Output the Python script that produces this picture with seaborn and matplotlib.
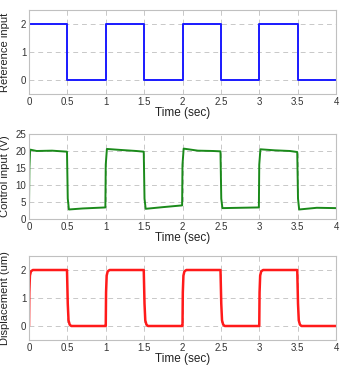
import numpy as np
import pandas as pd
import matplotlib
matplotlib.use("Agg")
import matplotlib.pyplot as plt
import seaborn as sns

# Reference input (square wave breakpoints)
ref_t = [0, 0.5, 0.5, 1.0, 1.0, 1.5, 1.5, 2.0, 2.0, 2.5, 2.5, 3.0, 3.0, 3.5, 3.5, 4.0]
ref_v = [2, 2, 0, 0, 2, 2, 0, 0, 2, 2, 0, 0, 2, 2, 0, 0]

# Control input (V)
ctl_t = [0, 0.005, 0.015, 0.1, 0.3, 0.495, 0.505, 0.52, 0.7, 0.995,
         1.0, 1.015, 1.2, 1.4, 1.495, 1.505, 1.52, 1.75, 1.995,
         2.0, 2.015, 2.2, 2.4, 2.495, 2.505, 2.52, 2.75, 2.995,
         3.0, 3.015, 3.2, 3.4, 3.495, 3.505, 3.52, 3.75, 4.0]
ctl_v = [3.5, 15.0, 20.4, 20.0, 20.1, 19.8, 6.0, 2.8, 3.1, 3.4,
         16.0, 20.6, 20.3, 20.0, 19.8, 6.0, 3.0, 3.5, 4.0,
         16.0, 20.7, 20.1, 20.0, 19.9, 6.0, 3.2, 3.3, 3.4,
         16.0, 20.5, 20.2, 20.0, 19.7, 6.0, 2.8, 3.3, 3.2]

# Displacement (um)
dsp_t = [0, 0.004, 0.012, 0.025, 0.05, 0.495, 0.505, 0.515, 0.53, 0.55, 0.995,
         1.0, 1.004, 1.012, 1.025, 1.05, 1.495, 1.505, 1.515, 1.53, 1.55, 1.995,
         2.0, 2.004, 2.012, 2.025, 2.05, 2.495, 2.505, 2.515, 2.53, 2.55, 2.995,
         3.0, 3.004, 3.012, 3.025, 3.05, 3.495, 3.505, 3.515, 3.53, 3.55, 4.0]
dsp_v = [0, 1.2, 1.8, 1.95, 2.0, 2.0, 0.8, 0.2, 0.05, 0.0, 0.0,
         0, 1.2, 1.8, 1.95, 2.0, 2.0, 0.8, 0.2, 0.05, 0.0, 0.0,
         0, 1.2, 1.8, 1.95, 2.0, 2.0, 0.8, 0.2, 0.05, 0.0, 0.0,
         0, 1.2, 1.8, 1.95, 2.0, 2.0, 0.8, 0.2, 0.05, 0.0, 0.0]

x_ticks = [0, 0.5, 1, 1.5, 2, 2.5, 3, 3.5, 4]
x_ticklabels = ["0", "0.5", "1", "1.5", "2", "2.5", "3", "3.5", "4"]

sns.set_style("white")
plt.rcParams["font.family"] = ["Liberation Sans", "DejaVu Sans"]

fig = plt.figure(figsize=(3.43, 3.66), dpi=100)
W, H = 343, 366
L, R = 29, 336
boxes = [(10, 94), (134, 219), (256, 340)]
panels = [
    (ref_t, ref_v, "#1a1aff", "Reference input", (-0.5, 2.5), [0, 1, 2], 1.4),
    (ctl_t, ctl_v, "#1a8a1a", "Control input (V)", (0, 25), [0, 5, 10, 15, 20, 25], 1.4),
    (dsp_t, dsp_v, "#ff1a1a", "Displacement (um)", (-0.5, 2.5), [0, 1, 2], 1.8),
]
for (top, bot), (t, v, col, ylab, ylim, yt, lw) in zip(boxes, panels):
    ax = fig.add_axes([L / W, 1 - bot / H, (R - L) / W, (bot - top) / H])
    df = pd.DataFrame({"t": t, "v": v})
    sns.lineplot(data=df, x="t", y="v", ax=ax, color=col, linewidth=lw,
                 sort=False, estimator=None)
    ax.set_xlim(0, 4)
    ax.set_ylim(*ylim)
    ax.set_xticks(x_ticks)
    ax.set_xticklabels(x_ticklabels)
    ax.set_yticks(yt)
    ax.grid(True, color="#c8c8c8", linestyle=(0, (5, 4)), linewidth=0.7)
    ax.set_axisbelow(True)
    for s in ax.spines.values():
        s.set_color("#c0c0c0")
        s.set_linewidth(0.8)
    ax.tick_params(labelsize=7, colors="#333333", length=0, pad=2)
    ax.set_xlabel("Time (sec)", fontsize=8.5, color="#222222", labelpad=0)
    ax.set_ylabel(ylab, fontsize=8, color="#222222")
    ax.yaxis.set_label_coords(-0.062, 0.5)

fig.savefig("out.png", dpi=100)
